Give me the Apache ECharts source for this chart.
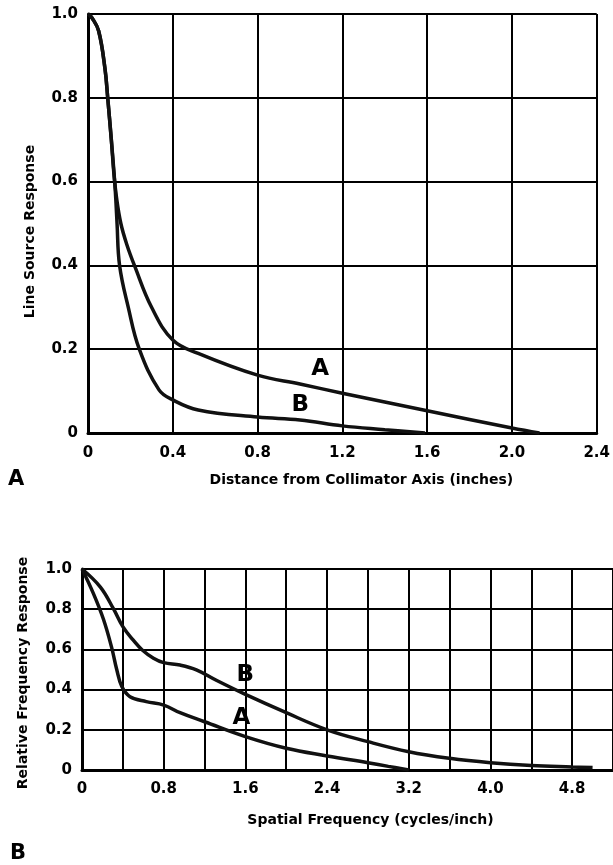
<!DOCTYPE html>
<html>
<head>
<meta charset="utf-8">
<script src="https://cdn.jsdelivr.net/npm/echarts@6/dist/echarts.min.js"></script>
<style>
html, body { margin: 0; padding: 0; background: #fff; }
#chart { width: 613px; height: 865px; }
</style>
</head>
<body>
<div id="chart"></div>
<script>
// panel A - line source response vs distance from collimator axis
const lsfDistA = [0, 0.02, 0.05, 0.08, 0.093, 0.11, 0.122, 0.135, 0.155, 0.183, 0.219, 0.3, 0.4, 0.52, 0.8, 1.0, 1.2, 1.6, 2.0, 2.13];
const lsfRespA = [1.0, 0.99, 0.96, 0.87, 0.8, 0.7, 0.62, 0.56, 0.5, 0.45, 0.4, 0.3, 0.222, 0.19, 0.138, 0.117, 0.095, 0.053, 0.012, 0];
const lsfDistB = [0, 0.02, 0.05, 0.08, 0.093, 0.11, 0.126, 0.132, 0.137, 0.149, 0.19, 0.242, 0.335, 0.4, 0.52, 0.8, 1.0, 1.2, 1.4, 1.59];
const lsfRespB = [1.0, 0.99, 0.96, 0.87, 0.8, 0.7, 0.6, 0.55, 0.5, 0.4, 0.3, 0.2, 0.103, 0.079, 0.055, 0.038, 0.031, 0.017, 0.008, 0];

// panel B - relative frequency response vs spatial frequency
const mtfFreqA = [0, 0.11, 0.21, 0.29, 0.34, 0.39, 0.47, 0.63, 0.8, 0.96, 1.2, 1.6, 2.0, 2.4, 2.8, 3.0, 3.2];
const mtfRespA = [1.0, 0.88, 0.75, 0.61, 0.5, 0.415, 0.365, 0.34, 0.323, 0.285, 0.24, 0.166, 0.108, 0.07, 0.036, 0.018, 0];
const mtfFreqB = [0, 0.18, 0.31, 0.4, 0.5, 0.59, 0.7, 0.8, 0.96, 1.12, 1.32, 1.6, 2.0, 2.4, 2.8, 3.2, 3.6, 4.0, 4.4, 4.8, 5.0];
const mtfRespB = [1.0, 0.91, 0.8, 0.713, 0.647, 0.597, 0.556, 0.534, 0.522, 0.498, 0.445, 0.376, 0.285, 0.2, 0.141, 0.091, 0.058, 0.036, 0.022, 0.015, 0.012];

// where the curve letters sit (data coords)
const lsfTags = [["A", 1.095, 0.153], ["B", 1.002, 0.067]];
const mtfTags = [["A", 1.56, 0.259], ["B", 1.6, 0.473]];

const FONT = "DejaVu Sans";

function zip(xs, ys) {
  return xs.map((x, i) => [x, ys[i]]);
}

function fmt(v) {
  return v === 0 ? "0" : v.toFixed(1);
}

function tagPoint(tag) {
  return {
    coord: [tag[1], tag[2]],
    symbol: "circle",
    symbolSize: 1,
    itemStyle: { color: "rgba(0,0,0,0)" },
    label: {
      show: true,
      position: "inside",
      formatter: tag[0],
      color: "#000",
      fontFamily: FONT,
      fontWeight: "bold",
      fontSize: 23
    }
  };
}

function curve(idx, data, tag) {
  return {
    type: "line",
    xAxisIndex: idx,
    yAxisIndex: idx,
    data: data,
    showSymbol: false,
    smooth: 0.4,
    lineStyle: { color: "#111", width: 3.5 },
    markPoint: { silent: true, animation: false, data: [tagPoint(tag)] }
  };
}

const labelStyle = { color: "#000", fontFamily: FONT, fontWeight: "bold", fontSize: 15 };
const nameStyle = { color: "#000", fontFamily: FONT, fontWeight: "bold", fontSize: 14 };
const gridLine = { show: true, lineStyle: { color: "#000", width: 2 } };
const axisLine = { show: true, lineStyle: { color: "#000", width: 3 } };

const option = {
  animation: false,
  backgroundColor: "#fff",
  grid: [
    { left: 88, top: 14, width: 515, height: 419 },
    { left: 82, top: 569, width: 531, height: 201 }
  ],
  xAxis: [
    {
      gridIndex: 0, type: "value", min: 0, max: 2.4, interval: 0.4,
      axisLine: axisLine, axisTick: { show: false }, splitLine: gridLine,
      axisLabel: Object.assign({ margin: 13, formatter: fmt }, labelStyle),
      name: "Distance from Collimator Axis (inches)",
      nameLocation: "middle", nameGap: 40,
      nameTextStyle: Object.assign({ padding: [0, 0, 0, 38] }, nameStyle)
    },
    {
      gridIndex: 1, type: "value", min: 0, max: 5.2, interval: 0.4,
      axisLine: axisLine, axisTick: { show: false }, splitLine: gridLine,
      axisLabel: Object.assign({
        margin: 12,
        showMaxLabel: false,
        formatter: v => (Math.round(v / 0.4) % 2 === 0 ? fmt(v) : "")
      }, labelStyle),
      name: "Spatial Frequency (cycles/inch)",
      nameLocation: "middle", nameGap: 43,
      nameTextStyle: Object.assign({ padding: [0, 0, 0, 46] }, nameStyle)
    }
  ],
  yAxis: [
    {
      gridIndex: 0, type: "value", min: 0, max: 1, interval: 0.2,
      axisLine: axisLine, axisTick: { show: false }, splitLine: gridLine,
      axisLabel: Object.assign({ margin: 10, formatter: fmt }, labelStyle),
      name: "Line Source Response",
      nameLocation: "middle", nameGap: 51,
      nameTextStyle: Object.assign({ padding: [0, 16, 0, 0] }, nameStyle)
    },
    {
      gridIndex: 1, type: "value", min: 0, max: 1, interval: 0.2,
      axisLine: axisLine, axisTick: { show: false }, splitLine: gridLine,
      axisLabel: Object.assign({ margin: 10, formatter: fmt }, labelStyle),
      name: "Relative Frequency Response",
      nameLocation: "middle", nameGap: 52,
      nameTextStyle: Object.assign({ padding: [0, 7, 0, 0] }, nameStyle)
    }
  ],
  graphic: [
    { type: "text", left: 8, top: 469, style: { text: "A", fill: "#000", font: "bold 21px " + FONT } },
    { type: "text", left: 10, top: 843, style: { text: "B", fill: "#000", font: "bold 21px " + FONT } }
  ],
  series: [
    curve(0, zip(lsfDistA, lsfRespA), lsfTags[0]),
    curve(0, zip(lsfDistB, lsfRespB), lsfTags[1]),
    curve(1, zip(mtfFreqA, mtfRespA), mtfTags[0]),
    curve(1, zip(mtfFreqB, mtfRespB), mtfTags[1])
  ]
};

echarts.init(document.getElementById("chart")).setOption(option);
</script>
</body>
</html>
